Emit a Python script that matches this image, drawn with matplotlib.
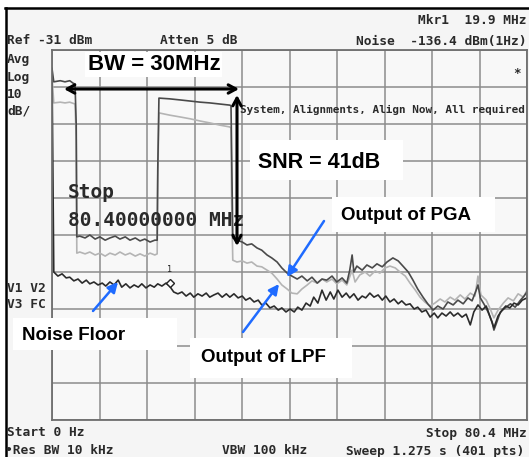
import numpy as np
import matplotlib
matplotlib.use("Agg")
import matplotlib.pyplot as plt
from matplotlib.patches import Rectangle

# Spectrum analyser screen: 0 .. 80.4 MHz, Ref -31 dBm, 10 dB/div
f_start, f_stop = 0.0, 80.4
ref_level, db_per_div = -31.0, 10.0

# (MHz, dBm)
pga = [(0.0, -36.0), (0.3, -39.6), (1.4, -39.3), (2.2, -39.6), (3.0, -39.3), (3.6, -40.0),
       (3.9, -40.2), (4.1, -51.3), (4.2, -81.5), (4.7, -81.3), (5.6, -81.8), (6.4, -81.0),
       (7.3, -82.1), (8.1, -81.5), (9.0, -82.4), (9.8, -81.8), (10.7, -81.3), (11.5, -82.1),
       (12.4, -81.5), (13.2, -82.4), (14.1, -81.8), (14.9, -82.6), (15.7, -82.1), (16.6, -82.9),
       (17.4, -82.4), (17.8, -82.4), (17.9, -63.4), (18.1, -44.0), (19.9, -44.2), (21.7, -44.5),
       (23.4, -44.8), (25.1, -45.1), (26.7, -45.3), (28.4, -45.6), (30.1, -45.9), (30.3, -46.1),
       (30.4, -58.0), (30.6, -81.8), (31.3, -82.4), (32.2, -82.9), (33.0, -83.7), (33.8, -83.4),
       (34.7, -84.5), (35.5, -85.1), (36.4, -86.4), (37.2, -87.2), (38.1, -88.3), (38.9, -89.9),
       (39.8, -91.3), (40.6, -92.1), (41.5, -92.9), (42.3, -92.1), (43.2, -93.4), (44.0, -92.4),
       (44.9, -94.0), (45.7, -92.9), (46.5, -93.2), (47.4, -92.1), (48.2, -93.7), (49.1, -92.6),
       (49.9, -94.0), (50.4, -90.5), (50.8, -86.4), (51.1, -91.0), (51.6, -89.4), (52.5, -90.5),
       (53.3, -89.1), (54.2, -89.9), (55.0, -88.8), (55.9, -89.6), (56.7, -88.3), (57.7, -87.2),
       (58.6, -88.0), (59.4, -89.4), (60.3, -91.0), (61.1, -93.2), (61.9, -95.6), (62.8, -97.8),
       (63.6, -99.6), (64.5, -101.3), (65.3, -100.2), (66.2, -101.0), (67.0, -99.1), (67.9, -99.9),
       (68.7, -98.6), (69.6, -99.6), (70.4, -98.0), (71.1, -98.8), (71.8, -95.9), (72.1, -94.5),
       (72.5, -98.0), (73.2, -99.9), (73.8, -101.8), (74.5, -104.5), (74.8, -106.7), (75.3, -104.5),
       (75.9, -101.8), (76.7, -100.7), (77.6, -99.6), (78.4, -100.5), (79.3, -98.6), (79.9, -97.5),
       (80.4, -96.4)]

lpf = [(0.0, -38.0), (0.3, -45.3), (1.4, -45.1), (2.2, -45.3), (3.0, -45.1), (3.9, -45.6),
       (4.1, -55.5), (4.2, -85.9), (4.7, -85.6), (5.6, -86.1), (6.4, -85.6), (7.3, -86.4),
       (8.1, -85.9), (9.0, -86.7), (9.8, -85.9), (10.7, -86.4), (11.5, -85.6), (12.4, -86.4),
       (13.2, -85.9), (14.1, -86.7), (14.9, -86.1), (15.7, -86.7), (16.6, -85.9), (17.4, -86.4),
       (17.8, -86.1), (17.9, -66.1), (18.1, -48.0), (19.9, -48.6), (21.7, -49.1), (23.4, -49.6),
       (25.1, -50.2), (26.7, -50.7), (28.4, -51.3), (30.1, -51.8), (30.3, -52.1), (30.4, -71.5),
       (30.6, -87.8), (31.3, -88.3), (32.2, -88.0), (33.0, -88.6), (33.8, -88.3), (34.7, -89.4),
       (35.5, -89.6), (36.4, -90.5), (37.2, -91.3), (38.1, -92.9), (38.9, -94.5), (39.8, -95.6),
       (40.6, -96.7), (41.5, -96.9), (42.3, -95.6), (43.2, -94.5), (44.0, -93.4), (44.9, -94.0),
       (45.7, -92.9), (46.5, -93.7), (47.4, -92.9), (48.2, -94.2), (49.1, -93.2), (49.9, -94.5),
       (50.8, -90.5), (51.3, -93.7), (52.1, -91.8), (53.0, -91.0), (53.8, -92.1), (54.7, -90.7),
       (55.5, -91.3), (56.4, -89.9), (57.2, -89.4), (58.1, -89.9), (58.9, -91.0), (59.8, -92.1),
       (60.6, -94.0), (61.5, -95.9), (62.3, -97.8), (63.1, -99.1), (64.0, -100.2), (64.8, -99.4),
       (65.7, -98.3), (66.5, -99.1), (67.4, -97.8), (68.2, -98.6), (69.1, -97.2), (69.9, -98.3),
       (70.8, -96.7), (71.6, -97.5), (72.1, -92.1), (72.6, -97.2), (73.5, -98.6), (74.1, -100.7),
       (74.8, -103.4), (75.5, -101.3), (76.4, -99.4), (77.2, -98.0), (78.1, -98.8), (78.9, -96.9),
       (79.8, -97.8), (80.4, -95.9)]

noise = [(0.0, -36.0), (0.3, -91.0), (1.0, -92.1), (1.7, -91.5), (2.4, -92.6), (3.0, -92.4),
         (3.7, -93.4), (4.4, -92.9), (5.1, -94.0), (5.8, -93.2), (6.4, -94.2), (7.1, -93.7),
         (7.8, -94.5), (8.5, -94.0), (9.1, -94.8), (9.8, -93.7), (10.5, -94.5), (11.2, -93.2),
         (11.8, -95.1), (12.5, -94.2), (13.2, -95.3), (13.9, -94.5), (14.6, -95.1), (15.2, -94.2),
         (15.9, -95.3), (16.6, -94.5), (17.3, -95.1), (17.9, -94.2), (18.6, -94.8), (19.3, -94.0),
         (19.9, -94.8), (20.6, -96.4), (21.3, -96.9), (22.0, -96.4), (22.7, -97.5), (23.4, -96.7),
         (24.0, -97.8), (24.7, -96.9), (25.4, -97.5), (26.1, -96.7), (26.7, -97.8), (27.4, -97.2),
         (28.1, -96.7), (28.8, -97.8), (29.5, -96.9), (30.1, -97.8), (30.8, -96.9), (31.5, -98.0),
         (32.2, -97.5), (32.8, -98.6), (33.5, -98.0), (34.2, -99.1), (34.9, -98.6), (35.5, -99.9),
         (36.2, -99.4), (36.9, -100.7), (37.6, -100.2), (38.3, -101.3), (38.9, -100.7), (39.6, -101.8),
         (40.3, -101.0), (41.0, -101.8), (41.6, -100.5), (42.3, -101.3), (43.0, -99.4), (43.7, -100.2),
         (44.3, -97.8), (45.0, -99.4), (45.7, -95.9), (46.4, -98.6), (47.1, -96.4), (47.7, -98.3),
         (48.4, -95.9), (49.1, -97.8), (49.8, -96.7), (50.4, -98.0), (51.1, -96.9), (51.8, -98.6),
         (52.5, -97.5), (53.1, -98.0), (53.8, -96.7), (54.5, -97.8), (55.2, -97.2), (55.9, -98.6),
         (56.5, -97.5), (57.2, -99.1), (57.9, -98.3), (58.6, -99.6), (59.2, -98.8), (59.9, -99.9),
         (60.6, -99.6), (61.3, -101.0), (61.9, -100.5), (62.6, -101.8), (63.3, -101.3), (64.0, -103.2),
         (64.7, -102.1), (65.3, -103.4), (66.0, -102.1), (66.7, -102.9), (67.4, -101.8), (68.0, -102.9),
         (68.7, -102.1), (69.4, -103.2), (70.1, -102.4), (70.8, -105.3), (71.4, -101.8), (72.1, -99.9),
         (72.8, -101.3), (73.5, -100.2), (74.1, -102.9), (74.8, -106.1), (75.5, -102.9), (76.2, -101.3),
         (76.8, -100.2), (77.5, -100.7), (78.2, -99.4), (78.9, -99.9), (79.6, -98.6), (80.4, -98.0)]

marker_mhz, marker_dbm = 19.9, -94.8

W, H = 529, 457
fig = plt.figure(figsize=(W / 100, H / 100), dpi=100, facecolor="white")

# pixel overlay for screen frame and annotations
ov = fig.add_axes([0, 0, 1, 1], zorder=3)
ov.set_xlim(0, W)
ov.set_ylim(H, 0)
ov.axis("off")
ov.patch.set_alpha(0)

# screen background behind everything
fig.patches.append(Rectangle((6 / W, 0), 1, 1 - 9 / H, transform=fig.transFigure,
                             facecolor="#f5f5f5", edgecolor="none", zorder=0))
fig.lines.append(plt.Line2D([6 / W, 6 / W], [0, 1 - 8 / H], transform=fig.transFigure,
                            color="black", lw=1.8))
fig.lines.append(plt.Line2D([5 / W, 1], [1 - 8 / H, 1 - 8 / H], transform=fig.transFigure,
                            color="black", lw=1.8))

# graticule
x0, x1, y0, y1 = 52, 527, 50, 420
ax = fig.add_axes([x0 / W, 1 - y1 / H, (x1 - x0) / W, (y1 - y0) / H], zorder=1)
ax.set_facecolor("#f8f8f8")
ax.set_xlim(f_start, f_stop)
ax.set_ylim(ref_level - 10 * db_per_div, ref_level)
ax.set_xticks(np.linspace(f_start, f_stop, 11))
ax.set_yticks(np.linspace(ref_level - 10 * db_per_div, ref_level, 11))
ax.tick_params(length=0, labelbottom=False, labelleft=False)
ax.grid(True, color="#8c8c8c", lw=1.1)
for s in ax.spines.values():
    s.set_color("#6e6e6e")
    s.set_linewidth(1.3)

for trace, col, lw in [(lpf, "#b4b4b4", 1.2), (pga, "#4a4a4a", 1.2), (noise, "#2b2b2b", 1.2)]:
    fx, lv = zip(*trace)
    ax.plot(fx, lv, color=col, lw=lw, clip_on=True)

ax.plot([marker_mhz], [marker_dbm + 0.8], marker="D", ms=4, mfc="white", mec="#222", mew=1)
ax.text(marker_mhz, marker_dbm + 4.5, "1", fontsize=6, ha="center", va="center",
        family="DejaVu Sans Mono", color="#222")

# instrument text
mono = dict(family="DejaVu Sans Mono", weight="bold", color="#2a2a2a")
ov.text(527, 20, "Mkr1  19.9 MHz", fontsize=9.3, ha="right", va="center", **mono)
ov.text(7, 41, "Ref -31 dBm", fontsize=9.3, ha="left", va="center", **mono)
ov.text(160, 41, "Atten 5 dB", fontsize=9.3, ha="left", va="center", **mono)
ov.text(527, 41, "Noise  -136.4 dBm(1Hz)", fontsize=9.3, ha="right", va="center", **mono)
for yy, s in [(60, "Avg"), (77, "Log"), (94, "10"), (111, "dB/"), (288, "V1 V2"), (305, "V3 FC")]:
    ov.text(7, yy, s, fontsize=9.3, ha="left", va="center", **mono)
ov.text(517, 73, "*", fontsize=9, ha="center", va="center", **mono)
ov.text(240, 110, "System, Alignments, Align Now, All required", fontsize=7.9,
        ha="left", va="center", **mono)
ov.text(68, 193, "Stop", fontsize=14, ha="left", va="center", **mono)
ov.text(68, 220, "80.40000000 MHz", fontsize=14, ha="left", va="center", **mono)
ov.text(7, 433, "Start 0 Hz", fontsize=9.3, ha="left", va="center", **mono)
ov.text(527, 433, "Stop 80.4 MHz", fontsize=9.3, ha="right", va="center", **mono)
ov.text(5, 451, "\u2022Res BW 10 kHz", fontsize=9.3, ha="left", va="center", **mono)
ov.text(222, 451, "VBW 100 kHz", fontsize=9.3, ha="left", va="center", **mono)
ov.text(524, 451, "Sweep 1.275 s (401 pts)", fontsize=9.3, ha="right", va="center", **mono)

# annotations added on top: white boxes then bold labels
bold = dict(family="Liberation Sans", weight="bold", color="black", ha="center", va="center")
labels = [("BW = 30MHz", 16, (85, 52, 222, 77), (154, 65)),
          ("SNR = 41dB", 15.5, (250, 140, 403, 180), (319, 162)),
          ("Output of PGA", 13.5, (332, 197, 495, 232), (406, 215)),
          ("Output of LPF", 13.5, (190, 338, 352, 378), (263, 357)),
          ("Noise Floor", 13.5, (13, 318, 177, 350), (74, 336))]
for txt, fs, (bx0, by0, bx1, by1), (tx, ty) in labels:
    ov.add_patch(Rectangle((bx0, by0), bx1 - bx0, by1 - by0, facecolor="white",
                           edgecolor="none", zorder=2))
    ov.text(tx, ty, txt, fontsize=fs, zorder=3, **bold)

dbl = dict(arrowstyle="<->,head_length=0.55,head_width=0.3", color="black", lw=2.2,
           shrinkA=0, shrinkB=0)
ov.annotate("", xy=(239, 89), xytext=(64, 89), arrowprops=dbl, zorder=4)
ov.annotate("", xy=(237, 246), xytext=(237, 95), arrowprops=dbl, zorder=4)

blue = dict(arrowstyle="-|>,head_length=0.6,head_width=0.3", color="#1f6bff", lw=1.8,
            shrinkA=0, shrinkB=0)
ov.annotate("", xy=(118, 282), xytext=(93, 311), arrowprops=blue, zorder=4)
ov.annotate("", xy=(287, 277), xytext=(324, 221), arrowprops=blue, zorder=4)
ov.annotate("", xy=(279, 284), xytext=(243, 332), arrowprops=blue, zorder=4)

fig.savefig("out.png", dpi=100, facecolor=fig.get_facecolor())
